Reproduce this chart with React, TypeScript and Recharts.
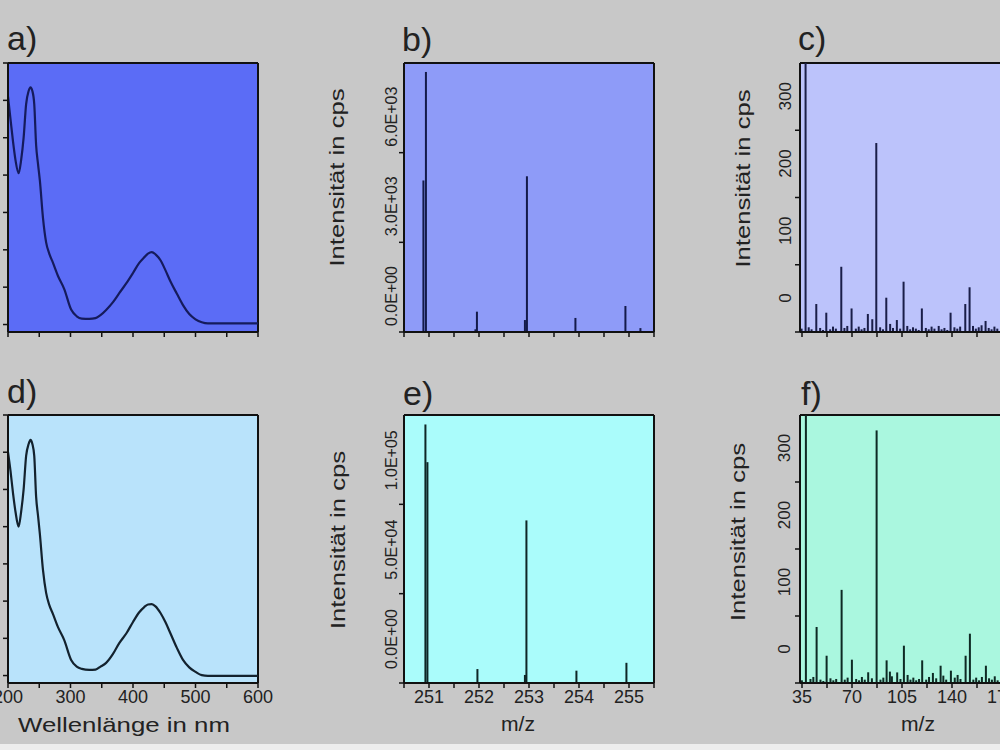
import { Bar, BarChart, CartesianGrid, Label, Line, LineChart, XAxis, YAxis } from "recharts"

const FONT = '"Liberation Sans", Arial, sans-serif'
const TEXT = "#222"
const FRAME = "#111"

// UV/Vis absorption spectra, panels a) and d)
const wavelengths = [200, 204, 208, 212, 217, 221, 225, 229, 233, 236, 239, 242, 245, 248, 251, 256, 261, 266, 272, 280, 290, 301, 310, 318, 330, 340, 348, 357, 368, 378, 390, 400, 410, 418, 424, 430, 436, 444, 452, 460, 470, 480, 490, 500, 510, 520, 560, 600]
const absorbanceA = [0.61, 0.55, 0.49, 0.44, 0.405, 0.44, 0.5, 0.59, 0.625, 0.635, 0.625, 0.59, 0.48, 0.43, 0.385, 0.285, 0.22, 0.19, 0.165, 0.13, 0.095, 0.04, 0.022, 0.016, 0.015, 0.017, 0.025, 0.039, 0.06, 0.084, 0.112, 0.138, 0.165, 0.18, 0.19, 0.194, 0.188, 0.172, 0.145, 0.115, 0.083, 0.052, 0.028, 0.014, 0.006, 0.003, 0.003, 0.003]
const absorbanceD = [0.6, 0.55, 0.49, 0.44, 0.4, 0.44, 0.5, 0.59, 0.622, 0.633, 0.622, 0.59, 0.48, 0.43, 0.38, 0.283, 0.222, 0.19, 0.165, 0.13, 0.095, 0.042, 0.024, 0.018, 0.015, 0.016, 0.024, 0.034, 0.058, 0.087, 0.115, 0.144, 0.17, 0.184, 0.191, 0.192, 0.186, 0.168, 0.143, 0.113, 0.075, 0.042, 0.022, 0.01, 0.001, -0.001, -0.001, -0.001]
const nmTicks = [200, 250, 300, 350, 400, 450, 500, 550, 600]
const absTicks = [0, 0.1, 0.2, 0.3, 0.4, 0.5, 0.6, 0.7]

// isotope patterns, panels b) and e)
const isoMzB = [250.89, 250.94, 251.93, 251.96, 252.92, 252.96, 253.93, 254.93, 255.23]
const isoCpsB = [5070, 8700, 90, 680, 400, 5210, 470, 870, 130]
const isoMzE = [250.93, 250.97, 251.97, 252.92, 252.95, 253.95, 254.95]
const isoCpsE = [144700, 123600, 7800, 4500, 91000, 6900, 11300]
const isoTicks = [250.5, 251, 251.5, 252, 252.5, 253, 253.5, 254, 254.5, 255, 255.5]
const cpsTicksB = [0, 3000, 6000]
const cpsTicksE = [0, 50000, 100000]

// fragment spectra, panels c) and f): peaks first, then the baseline noise
const fragMzC = [
  37.8, 45.3, 52.3, 62.8, 70, 81.4, 84.5, 87.3, 94.3, 101.7, 106.4, 119.2, 139.3, 149.6, 152.6, 163.8,
  35, 40, 42, 48, 50, 55, 57, 59, 65, 67, 73, 75, 77, 79, 90, 92, 97, 99, 104, 109,
  111, 113, 115, 117, 122, 124, 126, 128, 131, 133, 135, 137, 142, 144, 146, 155, 157, 159, 161, 166,
  168, 170, 172, 178, 182, 187, 193, 198, 204,
]
const fragCpsC = [
  1500, 41.6, 28.7, 97, 35, 26.8, 19, 281, 51, 17.8, 74.8, 35, 28.7, 41.6, 66.5, 16.4,
  5, 7, 4, 6, 3, 4, 8, 5, 6, 9, 5, 8, 4, 6, 7, 4, 12, 6, 5, 9,
  4, 7, 5, 3, 6, 4, 8, 5, 9, 4, 6, 3, 7, 5, 8, 9, 5, 7, 10, 6,
  4, 8, 5, 6, 4, 7, 5, 6, 4,
]
const fragMzF = [
  37.8, 45.3, 52.3, 62.8, 70, 81.4, 87.3, 94.3, 96.6, 101.7, 106.4, 119.2, 126.7, 132.1, 139.3, 149.6, 152.6, 163.8,
  35, 41, 43, 48, 50, 55, 57, 59, 65, 67, 73, 75, 77, 79, 84, 90, 92, 98, 104, 109,
  111, 113, 115, 117, 122, 124, 129, 134, 136, 142, 144, 146, 155, 157, 159, 161, 166, 168, 170, 172,
  178, 183, 188, 194, 199, 205,
]
const fragCpsF = [
  1500, 83.6, 40.7, 139, 34.8, 16, 377, 33.8, 17, 15.8, 55.7, 33.8, 15, 25.8, 18.4, 40.7, 73.6, 25.8,
  4, 6, 9, 5, 3, 7, 4, 6, 5, 8, 6, 4, 9, 5, 7, 5, 8, 10, 6, 12,
  5, 8, 4, 6, 5, 9, 7, 11, 5, 8, 12, 6, 5, 8, 4, 9, 7, 5, 10, 4,
  6, 5, 7, 4, 6, 5,
]
const fragTicks = [35, 52.5, 70, 87.5, 105, 122.5, 140, 157.5, 175, 192.5]
const cpsTicksFrag = [0, 100, 200, 300]

const BOX_W = 250
const X_AXIS_H = 55
const MS_AXIS_W = 90
const UV_AXIS_W = 30
const UV_RIGHT = 24

// "3000" -> "3.0E+03"
const sci = (v: number) => {
  const [m, e] = v.toExponential(1).split("e")
  const n = Number(e)
  return `${m}E${n < 0 ? "-" : "+"}${String(Math.abs(n)).padStart(2, "0")}`
}
const blank = () => ""

// frame: grid lines only on the four plot edges
const frameRows = ({ offset }: any) => [offset.top, offset.top + offset.height]
const frameCols = ({ offset }: any) => [offset.left, offset.left + offset.width]

const axisLine = { stroke: FRAME, strokeWidth: 2 }
const tickLine = { stroke: FRAME, strokeWidth: 1.5 }
const xTickStyle = { fontSize: 18, fill: TEXT, fontFamily: FONT }

function UprightTick(props: any) {
  const { x = 0, y = 0, payload, shift, lift, size, fmt } = props
  return (
    <text transform={`translate(${x + shift},${y - lift}) rotate(-90)`} textAnchor="middle" fontFamily={FONT} fontSize={size} fill={TEXT}>
      {payload ? fmt(payload.value) : ""}
    </text>
  )
}

function IntensityTitle(props: any) {
  const { viewBox, gap, drop } = props
  const cx = viewBox.x + viewBox.width - gap
  const cy = viewBox.y + viewBox.height / 2 + drop
  return (
    <text
      transform={`translate(${cx},${cy}) rotate(-90)`}
      textAnchor="middle"
      dominantBaseline="central"
      fontFamily={FONT}
      fontSize={20}
      fill={TEXT}
      textLength={178}
      lengthAdjust="spacingAndGlyphs"
    >
      Intensität in cps
    </text>
  )
}

function AxisCaption(props: any) {
  const { viewBox, caption, capSize, capSpan, shiftX, base } = props
  return (
    <text
      x={viewBox.x + viewBox.width / 2 + shiftX}
      y={viewBox.y + base}
      textAnchor="middle"
      fontFamily={FONT}
      fontSize={capSize}
      fill={TEXT}
      textLength={capSpan}
      lengthAdjust="spacingAndGlyphs"
    >
      {caption}
    </text>
  )
}

const stick = (ink: string) => (props: any) => {
  const { x, y, width, height } = props
  return <rect x={x + width / 2 - 1} y={y} width={2} height={Math.max(0, height)} fill={ink} />
}

type UvProps = { top: number; h: number; fill: string; ink: string; values: number[]; labelled?: boolean }

function UvPanel({ top, h, fill, ink, values, labelled }: UvProps) {
  const data = wavelengths.map((nm, i) => ({ nm, abs: values[i] }))
  return (
    <div style={{ position: "absolute", left: 8 - UV_AXIS_W, top: top - 2 }}>
      <LineChart width={UV_AXIS_W + BOX_W + UV_RIGHT} height={2 + h + X_AXIS_H} data={data} margin={{ top: 2, right: UV_RIGHT, bottom: 0, left: 0 }}>
        <CartesianGrid fill={fill} fillOpacity={1} stroke={FRAME} strokeWidth={2} horizontalCoordinatesGenerator={frameRows} verticalCoordinatesGenerator={frameCols} />
        <XAxis
          type="number"
          dataKey="nm"
          domain={[200, 600]}
          allowDataOverflow
          ticks={nmTicks}
          interval={0}
          height={X_AXIS_H}
          axisLine={axisLine}
          tickLine={tickLine}
          tickSize={5}
          tickMargin={2}
          tick={xTickStyle}
          tickFormatter={labelled ? (v: number) => (v % 100 === 0 ? String(v) : "") : blank}
        >
          {labelled && <Label content={<AxisCaption caption="Wellenlänge in nm" capSize={21} capSpan={212} shiftX={-9} base={49} />} />}
        </XAxis>
        {/* absorbance scale: tick marks only, its numbers sit beyond the left edge */}
        <YAxis
          type="number"
          domain={[-0.02, 0.7]}
          allowDataOverflow
          ticks={absTicks}
          interval={0}
          width={UV_AXIS_W}
          axisLine={axisLine}
          tickLine={tickLine}
          tickSize={5}
          tickFormatter={blank}
        />
        <Line type="monotone" dataKey="abs" stroke={ink} strokeWidth={2.2} dot={false} activeDot={false} isAnimationActive={false} />
      </LineChart>
    </div>
  )
}

type MsProps = {
  left: number
  top: number
  h: number
  fill: string
  ink: string
  mz: number[]
  cps: number[]
  xDomain: [number, number]
  xTicks: number[]
  xLabel: (v: number) => string
  yDomain: [number, number]
  yTicks: number[]
  yLabel: (v: number) => string
  yFont: number
  yShift: number
  yLift: number
  titleGap: number
  titleDrop: number
  captionShift?: number
}

function MsPanel(p: MsProps) {
  const data = p.mz.map((mz, i) => ({ mz, cps: p.cps[i] }))
  return (
    <div style={{ position: "absolute", left: p.left - MS_AXIS_W, top: p.top - 2 }}>
      <BarChart width={MS_AXIS_W + BOX_W + 4} height={2 + p.h + X_AXIS_H} data={data} margin={{ top: 2, right: 4, bottom: 0, left: 0 }} barSize={2}>
        <CartesianGrid fill={p.fill} fillOpacity={1} stroke={FRAME} strokeWidth={2} horizontalCoordinatesGenerator={frameRows} verticalCoordinatesGenerator={frameCols} />
        <XAxis
          type="number"
          dataKey="mz"
          domain={p.xDomain}
          allowDataOverflow
          ticks={p.xTicks}
          interval={0}
          height={X_AXIS_H}
          axisLine={axisLine}
          tickLine={tickLine}
          tickSize={5}
          tickMargin={2}
          tick={xTickStyle}
          tickFormatter={p.xLabel}
        >
          {p.captionShift !== undefined && <Label content={<AxisCaption caption="m/z" capSize={21} capSpan={34} shiftX={p.captionShift} base={48} />} />}
        </XAxis>
        <YAxis
          type="number"
          domain={p.yDomain}
          allowDataOverflow
          ticks={p.yTicks}
          interval={0}
          width={MS_AXIS_W}
          axisLine={axisLine}
          tickLine={tickLine}
          tickSize={5}
          tickMargin={2}
          tick={<UprightTick shift={p.yShift} lift={p.yLift} size={p.yFont} fmt={p.yLabel} />}
        >
          <Label content={<IntensityTitle gap={p.titleGap} drop={p.titleDrop} />} />
        </YAxis>
        <Bar dataKey="cps" fill={p.ink} isAnimationActive={false} shape={stick(p.ink)} />
      </BarChart>
    </div>
  )
}

function Tag({ text, left, top }: { text: string; left: number; top: number }) {
  return <div style={{ position: "absolute", left, top, fontSize: 34, lineHeight: "34px", color: TEXT, fontFamily: FONT }}>{text}</div>
}

const intLabel = (v: number) => (Number.isInteger(v) ? String(v) : "")
const fragLabel = (v: number) => (v % 35 === 0 ? String(v) : "")
const plain = (v: number) => String(v)

export default function App() {
  return (
    <div style={{ position: "absolute", left: 0, top: 0, width: 1000, height: 750, overflow: "hidden", background: "#c8c8c8", fontFamily: FONT }}>
      <UvPanel top={63} h={269} fill="#5b6cf6" ink="#151b5c" values={absorbanceA} />
      <MsPanel
        left={404} top={63} h={269} fill="#8e9bf8" ink="#141a4a"
        mz={isoMzB} cps={isoCpsB}
        xDomain={[250.5, 255.5]} xTicks={isoTicks} xLabel={blank}
        yDomain={[0, 9000]} yTicks={cpsTicksB} yLabel={sci}
        yFont={16} yShift={0} yLift={36} titleGap={67} titleDrop={-20}
      />
      <MsPanel
        left={800} top={63} h={269} fill="#bcc3fb" ink="#1a1e48"
        mz={fragMzC} cps={fragCpsC}
        xDomain={[33.6, 208.6]} xTicks={fragTicks} xLabel={blank}
        yDomain={[0, 400]} yTicks={cpsTicksFrag} yLabel={plain}
        yFont={17} yShift={-2} yLift={34} titleGap={57} titleDrop={-19}
      />
      <UvPanel top={415} h={268} fill="#b9e3fb" ink="#13222e" values={absorbanceD} labelled />
      <MsPanel
        left={404} top={415} h={268} fill="#aafcfb" ink="#0e2626"
        mz={isoMzE} cps={isoCpsE}
        xDomain={[250.5, 255.5]} xTicks={isoTicks} xLabel={intLabel}
        yDomain={[0, 150000]} yTicks={cpsTicksE} yLabel={sci}
        yFont={16} yShift={0} yLift={44} titleGap={66} titleDrop={-9}
        captionShift={-11}
      />
      <MsPanel
        left={800} top={415} h={268} fill="#aaf7df" ink="#0e2a24"
        mz={fragMzF} cps={fragCpsF}
        xDomain={[33.6, 208.6]} xTicks={fragTicks} xLabel={fragLabel}
        yDomain={[0, 400]} yTicks={cpsTicksFrag} yLabel={plain}
        yFont={17} yShift={-3} yLift={34} titleGap={62} titleDrop={-17}
        captionShift={-7}
      />
      <div style={{ position: "absolute", left: 0, top: 744, width: 1000, height: 6, background: "#ededed" }} />
      <Tag text="a)" left={7} top={21} />
      <Tag text="b)" left={402} top={22} />
      <Tag text="c)" left={798} top={21} />
      <Tag text="d)" left={7} top={374} />
      <Tag text="e)" left={403} top={376} />
      <Tag text="f)" left={801} top={376} />
    </div>
  )
}
